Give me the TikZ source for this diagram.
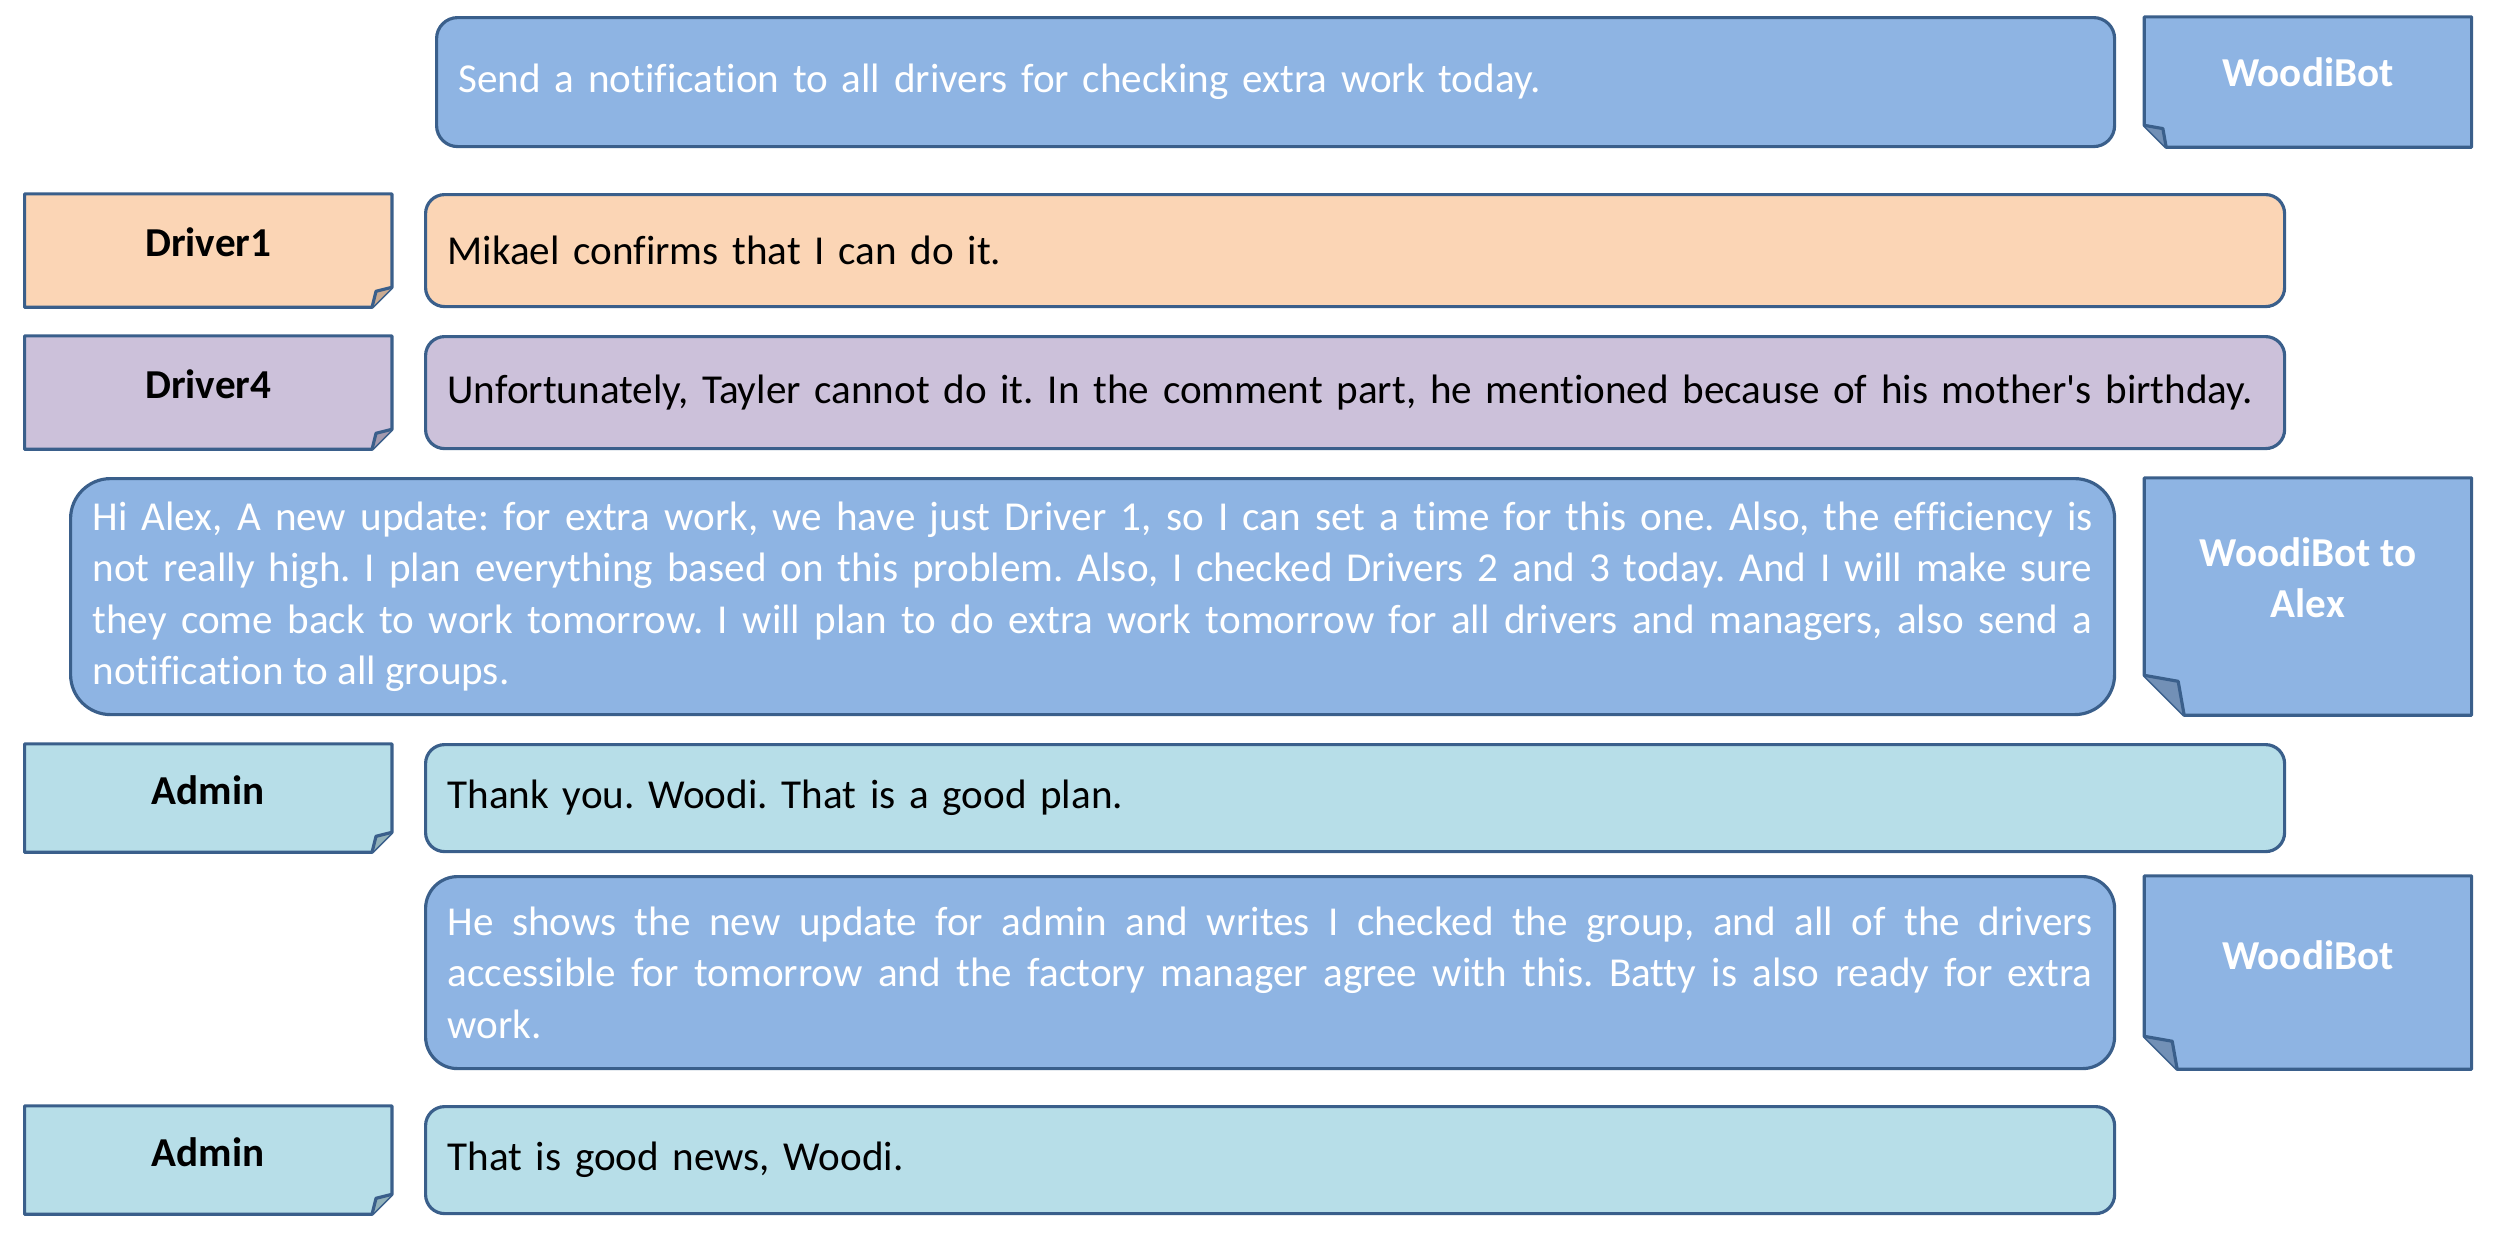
\documentclass[tikz,border=0pt]{standalone}
\usepackage{fontspec}
\setmainfont{Carlito}[Ligatures=NoCommon]
\usetikzlibrary{positioning,backgrounds}
\definecolor{edge}{HTML}{3A5F8B}
\definecolor{botblue}{HTML}{8EB4E3}
\definecolor{peach}{HTML}{FBD5B5}
\definecolor{lilac}{HTML}{CCC1DA}
\definecolor{aqua}{HTML}{B7DEE8}
\newcommand\chatsize{\fontsize{11.7}{14.65}\selectfont\frenchspacing}
\tikzset{
  msg/.style={draw=edge, line width=0.9pt, rounded corners=#1, anchor=north west,
    inner xsep=0.22cm, inner ysep=0pt, align=left},
  msg/.default=0.19cm,
  note/.style={inner sep=0pt, font=\chatsize\bfseries, align=center},
  outline/.style={draw=edge, line width=0.9pt, line join=round}}
% text of a note sits a bit above the middle
\newcommand\lift[2]{\raisebox{#1}[\height][\depth]{#2}}
% note with the folded corner at the bottom left
\newcommand\earleft[3]{%
  \begin{scope}[on background layer]
    \draw[outline, fill=#3] (#1.north west) -- (#1.north east) -- (#1.south east)
      -- ([xshift=#2]#1.south west) -- ([yshift=#2]#1.south west) -- cycle;
  \end{scope}
  \draw[outline, fill=#3!80!black] ([yshift=#2]#1.south west)
    -- ([shift={(0.85*#2,0.85*#2)}]#1.south west) -- ([xshift=#2]#1.south west);}
% note with the folded corner at the bottom right
\newcommand\earright[3]{%
  \begin{scope}[on background layer]
    \draw[outline, fill=#3] (#1.north west) -- (#1.north east) -- ([yshift=#2]#1.south east)
      -- ([xshift=-#2]#1.south east) -- (#1.south west) -- cycle;
  \end{scope}
  \draw[outline, fill=#3!80!black] ([yshift=#2]#1.south east)
    -- ([shift={(-0.8*#2,0.8*#2)}]#1.south east) -- ([xshift=-#2]#1.south east);}

\begin{document}
\begin{tikzpicture}[every node/.style={font=\chatsize}]
  \useasboundingbox (0,0) rectangle (25,-12.46);

  % messages
  \node[msg=0.21cm, fill=botblue, text=white, text width=16.34cm, minimum height=1.29cm]
    (ask) at (4.35,-0.16) {Send a notification to all drivers for checking extra work today.};
  \node[msg, fill=peach, text width=18.15cm, minimum height=1.12cm]
    (d1msg) at (4.24,-1.93) {Mikael confirms that I can do it.};
  \node[msg, fill=lilac, text width=18.15cm, minimum height=1.12cm]
    (d4msg) at (4.24,-3.35) {Unfortunately, Tayler cannot do it. In the comment part, he mentioned because of his mother\textquotesingle s birthday.};
  \node[msg=0.4cm, fill=botblue, text=white, text width=20cm, minimum height=2.36cm, align=justify]
    (alexmsg) at (0.69,-4.77) {Hi Alex, A new update: for extra work, we have just Driver 1, so I can set a time for this one. Also, the efficiency is\linebreak
    not really high. I plan everything based on this problem. Also, I checked Drivers 2 and 3 today. And I will make sure\linebreak
    they come back to work tomorrow. I will plan to do extra work tomorrow for all drivers and managers, also send a\linebreak
    notification to all groups.};
  \node[msg, fill=aqua, text width=18.15cm, minimum height=1.07cm]
    (plan) at (4.24,-7.43) {Thank you. Woodi. That is a good plan.};
  \node[msg=0.32cm, fill=botblue, text=white, text width=16.45cm, minimum height=1.92cm, align=justify]
    (update) at (4.24,-8.75) {He shows the new update for admin and writes I checked the group, and all of the drivers\linebreak
    accessible for tomorrow and the factory manager agree with this. Batty is also ready for extra\linebreak
    work.};
  \node[msg, fill=aqua, text width=16.45cm, minimum height=1.07cm]
    (news) at (4.24,-11.05) {That is good news, Woodi.};

  % who sends them
  \node[note, text=white, minimum width=3.26cm, minimum height=1.29cm, right=0.28cm of ask]
    (bot1) {\lift{0.1cm}{WoodiBot}};
  \node[note, minimum width=3.66cm, minimum height=1.12cm, left=0.32cm of d1msg]
    (drv1) {\lift{0.08cm}{Driver1}};
  \node[note, minimum width=3.66cm, minimum height=1.12cm, left=0.32cm of d4msg]
    (drv4) {\lift{0.08cm}{Driver4}};
  \node[note, text=white, minimum width=3.26cm, minimum height=2.36cm, right=0.28cm of alexmsg]
    (bot2) {\lift{0.19cm}{WoodiBot to}\\\lift{0.19cm}{Alex}};
  \node[note, minimum width=3.66cm, minimum height=1.07cm, left=0.32cm of plan]
    (adm1) {\lift{0.08cm}{Admin}};
  \node[note, text=white, minimum width=3.26cm, minimum height=1.92cm, right=0.28cm of update]
    (bot3) {\lift{0.17cm}{WoodiBot}};
  \node[note, minimum width=3.66cm, minimum height=1.07cm, left=0.32cm of news]
    (adm2) {\lift{0.08cm}{Admin}};

  \earleft{bot1}{0.22cm}{botblue}
  \earright{drv1}{0.2cm}{peach}
  \earright{drv4}{0.2cm}{lilac}
  \earleft{bot2}{0.4cm}{botblue}
  \earright{adm1}{0.2cm}{aqua}
  \earleft{bot3}{0.33cm}{botblue}
  \earright{adm2}{0.2cm}{aqua}
\end{tikzpicture}
\end{document}
